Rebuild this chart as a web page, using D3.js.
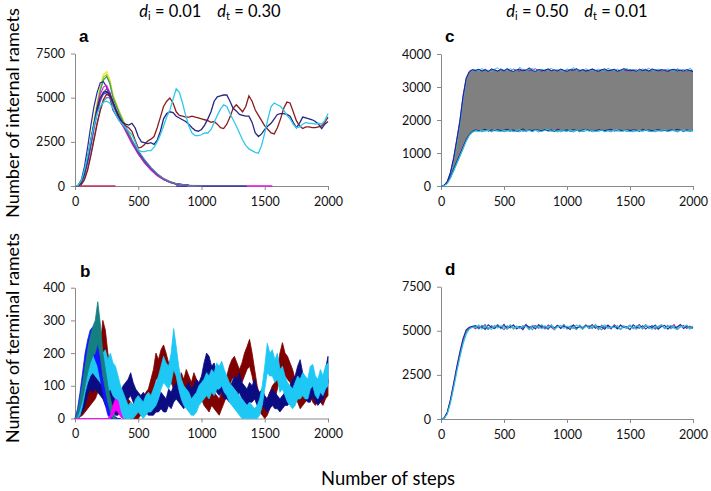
<!DOCTYPE html>
<html><head><meta charset="utf-8">
<script src="https://cdn.jsdelivr.net/npm/d3@7"></script>
<style>body{margin:0;background:#fff}svg{display:block}</style>
</head><body><svg id="chart" width="711" height="491"></svg>
<script>
// ---------------- DATA ----------------
const xTicks = [0, 500, 1000, 1500, 2000];
const yTicksA = [0, 2500, 5000, 7500];
const yTicksB = [0, 100, 200, 300, 400];
const yTicksC = [0, 1000, 2000, 3000, 4000];
const yTicksD = [0, 2500, 5000, 7500];
const panelLetters = ["a", "b", "c", "d"];
const titleLeft = ["0.01", "0.30"];
const titleRight = ["0.50", "0.01"];
const titleSubs = ["i", "t"];
const yLabelTop = "Number of internal ramets";
const yLabelBottom = "Number of terminal ramets";
const xLabel = "Number of steps";

// Panel a: runs that die out
const stepsA = [0,25,50,75,100,125,150,175,200,225,250,275,300,350,400,450,500,550,600,650,700,750,800,900,1000];
const dyingAColors = ["#f2e94e","#9acd32","#3c9a5f","#2a2aa0","#e020e0","#2040d0","#7b3fa0","#5a7ab0"];
const dyingAValues = [
  [0,30,260,820,1620,2650,3680,4700,5600,6300,6450,6000,5150,4200,3400,2600,1900,1400,1000,650,400,230,120,30,0],
  [0,30,250,800,1600,2600,3600,4600,5500,6150,6300,5900,5100,4200,3400,2600,1900,1400,1000,650,400,230,120,30,0],
  [0,20,200,700,1500,2500,3500,4500,5400,6000,6200,5800,5000,4100,3300,2500,1850,1350,950,620,380,220,110,30,0],
  [0,40,350,1100,2200,3400,4500,5300,5850,5900,5600,5000,4300,3700,3200,2500,1900,1400,1000,650,400,230,120,30,0],
  [0,20,200,700,1400,2400,3400,4400,5200,5600,5700,5300,4600,3800,3100,2400,1800,1300,900,580,350,200,100,25,0],
  [0,30,250,800,1600,2600,3500,4300,4900,5200,5300,5200,4700,3900,3200,2500,1900,1400,1000,650,400,230,120,30,0],
  [0,20,150,600,1300,2200,3200,4100,4800,5300,5500,5300,4700,3900,3200,2500,1850,1350,950,620,380,220,110,30,0],
  [0,10,100,450,1000,1800,2700,3600,4300,4800,5000,5000,4600,3900,3300,2600,2000,1500,1050,700,430,250,130,30,0]
];
// zero-valued tails of extinct runs (start step, end step)
const zeroTailStart = [0, 800, 1360];
const zeroTailEnd = [320, 1360, 1560];
const zeroTailColors = ["#c0305a", "#2a2aa0", "#e020e0"];

// Panel a: persistent runs, every 25 steps
const persistAColors = ["#8b1c1c", "#262680", "#2ec8ea"];
const redA = [0,10,80,350,900,1700,2600,3500,4300,4900,
  5200,5100,4700,4200,3800,3500,3400,3300,3100,2600,
  2150,2200,2350,2550,2650,2800,3300,3900,4500,4800,
  4980,4700,4200,4000,3950,3900,3900,3950,3900,3850,
  3800,3750,3700,3600,3650,3500,3300,3250,3500,3900,
  4400,4600,4400,4200,4500,5100,4800,4300,4000,3700,
  3400,3200,3000,2950,3300,3800,4400,4750,4700,4200,
  3700,3400,3250,3350,3350,3300,3300,3350,3400,3600,3900];
const navyA = [0,30,200,700,1500,2500,3500,4400,5000,5300,
  5350,5200,4800,4300,3900,3600,3500,3450,3550,3300,
  2800,2500,2450,2400,2450,2350,2600,3100,3800,4100,
  4200,4150,3950,3850,3750,3650,3500,3300,3150,3100,
  3200,3450,3800,4200,4800,5050,5100,5150,5150,4800,
  4400,4250,4050,4000,3950,3950,3600,3000,2800,2950,
  3200,3400,3550,3800,4050,4100,4100,4050,3950,3600,
  3300,3550,3900,3850,3800,3750,3650,3500,3250,3500,3650];
const cyanA = [0,40,300,900,1700,2600,3400,4100,4500,4750,
  4800,4700,4400,4000,3700,3500,3300,3100,2900,2500,
  2050,1950,1950,2000,2000,2200,2500,2900,3400,3900,
  4300,4900,5500,5300,4700,4000,3400,3000,2850,2850,
  2900,3000,3000,3200,3600,4000,4350,4600,4500,4100,
  3750,3400,3000,2600,2300,2100,2000,1900,1850,2300,
  3000,3800,4500,4700,4600,4500,4300,4000,3800,3500,
  3300,3350,3500,3600,3550,3550,3500,3550,3500,3700,4100];

// Panel b: terminal ramets, band (low/high) every 20 steps
const redBHi = [0,5,20,40,60,80,90,100,110,150, 220,300,270,200,150,120,90,70,60,50,
  50,60,50,40,30,40,50,60,80,90, 120,150,200,180,210,225,200,170,180,150,
  130,110,140,120,150,130,110,140,120,100, 110,90,80,70,90,80,70,60,80,100,
  130,160,180,190,170,150,170,200,220,242, 200,150,100,70,50,40,60,80,100,110,
  150,200,232,200,190,170,150,120,100,80, 90,100,110,120,100,90,110,100,90,110, 120];
const redBLo = [0,0,5,10,20,30,40,50,60,80, 120,150,140,110,80,60,40,20,10,0,
  0,10,0,0,0,0,10,20,30,40, 60,90,120,120,140,150,130,110,110,90,
  80,60,80,70,90,80,60,80,70,50, 60,40,30,20,40,30,20,10,30,50,
  70,100,120,130,110,90,110,130,150,160, 130,90,50,20,10,0,10,30,50,60,
  90,130,150,130,120,110,90,70,50,30, 40,50,60,70,50,40,60,50,40,60, 70];
const navyBHi = [0,10,30,60,100,140,160,150,170,150, 130,120,100,90,110,80,70,60,80,100,
  110,120,140,110,90,80,70,80,70,60, 50,60,70,60,80,70,60,90,80,100,
  110,100,90,80,100,110,90,100,120,110, 130,170,200,190,160,170,140,130,150,120,
  110,100,110,130,120,140,110,100,90,110, 100,120,90,80,90,70,60,80,90,80,
  70,60,70,80,90,100,120,130,160,180, 140,120,100,110,130,100,90,110,120,150, 190];
const navyBLo = [0,0,10,20,40,70,90,80,90,80, 70,60,40,30,40,20,10,10,30,40,
  50,60,70,50,30,20,20,30,20,10, 10,10,20,20,30,20,20,40,30,50,
  60,50,40,30,50,50,40,50,60,60, 70,110,130,120,100,100,80,70,80,60,
  60,50,50,70,60,80,60,50,40,50, 50,60,40,30,40,30,20,30,40,30,
  30,20,30,40,40,50,60,70,90,100, 80,60,50,50,70,50,40,50,60,80, 110];
const cyanBHi = [0,15,50,100,170,220,260,280,250,270, 230,200,210,180,200,170,160,130,100,80,
  60,40,50,40,60,70,60,50,70,80, 70,90,110,130,160,190,170,160,200,275,
  220,160,120,100,90,80,60,70,80,100, 110,120,140,130,150,140,170,160,175,150,
  130,110,100,90,80,70,60,50,40,50, 40,30,40,60,100,160,230,200,210,180,
  200,150,160,130,110,100,90,110,130,120, 140,130,120,160,165,130,120,150,130,160, 170];
const cyanBLo = [0,0,10,40,80,110,130,140,130,120, 110,100,90,80,90,70,60,40,20,0,
  0,0,0,0,10,20,10,0,10,20, 20,30,40,60,90,110,100,90,110,150,
  130,90,60,40,30,20,10,10,20,40, 50,60,70,60,80,70,90,90,100,80,
  70,50,40,30,20,10,0,0,0,0, 0,0,0,10,40,90,140,130,130,110,
  120,80,90,70,50,40,30,40,60,60, 70,60,60,90,100,70,60,80,70,90, 100];
// extinct runs in b (from step 0, every 20 steps)
const tealBHi = [0,20,60,110,160,210,250,280,300,357,290,200,150,100,60,30,0];
const tealBLo = [0,5,30,60,100,140,170,190,200,230,190,130,90,50,20,0,0];
const blueBHi = [0,30,80,140,200,240,270,280,260,240,200,150,100,60,30,10,5,0,0];
const blueBLo = [0,10,40,80,120,160,190,200,180,160,120,80,40,10,0,0,0,0,0];
const magBHi = [0,0,0,0,0,0,0,0,0,0,0,0,0,0,10,40,60,55,20,0];
const magBLo = [0,0,0,0,0,0,0,0,0,0,0,0,0,0,0,10,25,20,5,0];

// Panel c: envelope edges, every 25 steps
const cNavyHi = [0,20,130,400,820,1380,1950,2700,3250,3460,3520,
  3500,3540,3480,3520,3470,3550,3510,3490,3530,3480,
  3560,3500,3470,3520,3540,3490,3510,3580,3500,3470,
  3530,3510,3490,3550,3500,3520,3480,3540,3510,3470,
  3530,3500,3560,3490,3520,3480,3510,3540,3500,3470,
  3520,3550,3490,3510,3530,3480,3500,3560,3520,3490,
  3510,3470,3540,3500,3520,3480,3550,3510,3490,3530,
  3500,3470,3520,3540,3490,3510,3480,3530,3500,3460];
const cCyanHi = [0,15,100,340,760,1300,1880,2620,3200,3440,3500,
  3530,3480,3560,3500,3510,3470,3540,3580,3490,3520,
  3500,3550,3520,3480,3600,3510,3490,3530,3560,3500,
  3480,3540,3500,3510,3570,3490,3530,3500,3480,3550,
  3510,3590,3500,3530,3480,3560,3500,3520,3490,3540,
  3500,3480,3570,3520,3500,3540,3490,3510,3560,3500,
  3530,3500,3480,3550,3510,3570,3490,3500,3540,3520,
  3490,3550,3500,3480,3560,3510,3530,3490,3570,3500];
const cPurpleHi = [0,25,150,420,860,1420,2000,2750,3280,3480,3530,
  3490,3520,3500,3540,3480,3510,3530,3470,3550,3500,
  3520,3490,3540,3500,3480,3530,3510,3490,3520,3550,
  3500,3480,3520,3540,3490,3510,3500,3530,3480,3520,
  3500,3540,3510,3480,3530,3500,3490,3550,3510,3500,
  3530,3490,3510,3500,3540,3480,3520,3510,3490,3530,
  3500,3520,3480,3510,3540,3500,3490,3520,3510,3480,
  3530,3500,3510,3490,3540,3500,3520,3480,3510,3490];
const cCyanLo = [0,10,80,250,470,690,910,1140,1370,1540,1640,
  1680,1650,1700,1660,1690,1640,1710,1670,1650,1690,
  1660,1700,1640,1680,1710,1650,1670,1690,1640,1700,
  1670,1650,1690,1720,1660,1680,1640,1700,1670,1650,
  1690,1660,1700,1640,1680,1710,1660,1690,1650,1670,
  1700,1640,1680,1660,1690,1710,1650,1670,1700,1640,
  1680,1660,1690,1650,1700,1670,1640,1690,1660,1680,
  1710,1650,1670,1690,1640,1680,1700,1660,1690,1670];
const cNavyLo = [0,15,100,290,520,740,960,1190,1410,1570,1660,
  1700,1670,1690,1720,1660,1700,1680,1710,1670,1690,
  1720,1680,1700,1660,1690,1730,1670,1700,1680,1710,
  1690,1670,1710,1680,1700,1660,1720,1690,1680,1700,
  1670,1710,1690,1660,1700,1720,1680,1690,1670,1710,
  1690,1680,1700,1720,1660,1700,1690,1670,1710,1680,
  1700,1690,1660,1720,1680,1700,1670,1690,1710,1680,
  1690,1670,1700,1680,1720,1690,1660,1700,1680,1690];
const cTealLo = [0,8,70,230,450,670,890,1120,1350,1530,1630,
  1660,1690,1640,1680,1700,1650,1680,1660,1700,1640,
  1680,1650,1690,1670,1640,1700,1660,1680,1650,1690,
  1640,1680,1700,1660,1670,1650,1690,1640,1680,1700,
  1660,1640,1680,1690,1650,1670,1700,1640,1680,1660,
  1690,1650,1670,1640,1700,1660,1680,1690,1650,1670,
  1640,1690,1660,1680,1700,1650,1670,1640,1690,1660,
  1680,1650,1700,1670,1640,1690,1660,1680,1650,1670];

// Panel d: four runs, every 25 steps
const dColors = ["#8040a0", "#40a0a0", "#2a2aa8", "#30c0e0"];
const dPurple = [0,50,360,1050,1950,2880,3720,4480,5000,5180,5230,
  5120,5300,5180,5350,5090,5260,5150,5320,5210,5070,
  5280,5160,5340,5110,5250,5190,5360,5080,5230,5300,
  5140,5270,5100,5330,5200,5060,5290,5170,5350,5120,
  5240,5310,5090,5260,5180,5340,5130,5220,5290,5070,
  5310,5160,5250,5100,5340,5200,5080,5270,5190,5320,
  5150,5230,5360,5110,5280,5170,5300,5090,5240,5330,
  5140,5260,5190,5350,5080,5220,5300,5130,5270,5180];
const dTeal = [0,40,330,1000,1850,2780,3620,4380,4900,5150,5220,
  5250,5100,5310,5180,5070,5290,5220,5350,5120,5240,
  5160,5330,5090,5270,5200,5140,5310,5230,5060,5280,
  5190,5340,5150,5220,5300,5100,5260,5180,5330,5110,
  5270,5200,5080,5320,5160,5240,5290,5120,5350,5190,
  5060,5250,5310,5170,5230,5100,5340,5200,5140,5280,
  5220,5090,5300,5180,5350,5130,5260,5210,5070,5290,
  5170,5320,5110,5240,5200,5340,5150,5270,5100,5230];
const dNavy = [0,60,400,1100,2000,2950,3800,4550,5050,5200,5250,
  5300,5150,5230,5080,5340,5200,5120,5290,5170,5360,
  5100,5250,5310,5140,5220,5070,5330,5190,5270,5110,
  5350,5180,5240,5090,5300,5160,5320,5130,5260,5200,
  5080,5340,5170,5230,5110,5300,5190,5360,5140,5250,
  5210,5090,5330,5160,5280,5120,5310,5180,5230,5070,
  5340,5200,5150,5290,5100,5260,5180,5330,5120,5240,
  5310,5090,5270,5160,5220,5350,5130,5250,5200,5140];
const dCyan = [0,30,280,900,1750,2650,3500,4250,4800,5100,5200,
  5180,5330,5100,5260,5200,5070,5310,5150,5280,5230,
  5090,5340,5170,5220,5130,5300,5250,5060,5320,5190,
  5240,5110,5290,5160,5350,5080,5230,5300,5140,5270,
  5190,5120,5330,5210,5090,5280,5150,5240,5310,5100,
  5260,5340,5130,5220,5180,5300,5070,5250,5160,5330,
  5110,5280,5200,5140,5310,5230,5090,5270,5190,5350,
  5120,5240,5300,5160,5070,5260,5210,5330,5140,5280];

// ---------------- DRAWING ----------------
const FONT = 'Lato, "Open Sans", sans-serif';
const svg = d3.select("#chart");
svg.append("rect").attr("width", 711).attr("height", 491).attr("fill", "#fff");

const steps25 = d3.range(0, 2001, 25);
const steps20 = d3.range(0, 2001, 20);
const fmt = d3.format("d");

function panel(xr, yr, yd, yt) {
  const x = d3.scaleLinear().domain([0, 2000]).range(xr);
  const y = d3.scaleLinear().domain(yd).range(yr);
  const g = svg.append("g");
  const ax = g.append("g").attr("transform", `translate(0,${yr[0]})`)
    .call(d3.axisBottom(x).tickValues(xTicks).tickFormat(fmt).tickSizeInner(4).tickSizeOuter(0).tickPadding(7));
  const ay = g.append("g").attr("transform", `translate(${xr[0]},0)`)
    .call(d3.axisLeft(y).tickValues(yt).tickFormat(fmt).tickSizeInner(4).tickSizeOuter(0).tickPadding(6));
  [ax, ay].forEach(a => {
    a.attr("font-family", FONT).attr("font-size", 12.5).attr("color", "#8a8a8a");
    a.selectAll("text").attr("fill", "#111");
  });
  const plot = g.append("g");
  return {x, y, g: plot};
}

const pa = panel([75, 328], [186, 53.5], [0, 7500], yTicksA);
const pb = panel([75, 328], [418.5, 287.7], [0, 400], yTicksB);
const pc = panel([441, 693], [186, 54], [0, 4000], yTicksC);
const pd = panel([441, 693], [419, 286.7], [0, 7500], yTicksD);

function lineOf(p, steps, vals) {
  return d3.line().x((d, i) => p.x(steps[i])).y(d => p.y(d))(vals);
}
function areaOf(p, steps, lo, hi) {
  return d3.area().x((d, i) => p.x(steps[i])).y0((d, i) => p.y(lo[i])).y1(d => p.y(d))(hi);
}

// ---- panel a ----
zeroTailStart.forEach((s, i) => {
  pa.g.append("path").attr("d", lineOf(pa, [s, zeroTailEnd[i]], [0, 0]))
    .attr("fill", "none").attr("stroke", zeroTailColors[i]).attr("stroke-width", 1.6);
});
dyingAValues.forEach((vals, i) => {
  pa.g.append("path").attr("d", lineOf(pa, stepsA, vals))
    .attr("fill", "none").attr("stroke", dyingAColors[i]).attr("stroke-width", i === 0 ? 1.8 : 1.2);
});
[redA, navyA, cyanA].forEach((vals, i) => {
  pa.g.append("path").attr("d", lineOf(pa, steps25, vals))
    .attr("fill", "none").attr("stroke", persistAColors[i]).attr("stroke-width", 1.3);
});

// ---- panel b ----
const bBands = [
  {hi: redBHi, lo: redBLo, c: "#7f0000"},
  {hi: navyBHi, lo: navyBLo, c: "#0c0c82"},
  {hi: cyanBHi, lo: cyanBLo, c: "#1ec8f5"},
  {hi: blueBHi, lo: blueBLo, c: "#1414ff"},
  {hi: tealBHi, lo: tealBLo, c: "#148080"},
  {hi: magBHi, lo: magBLo, c: "#ff00ff"}
];
bBands.forEach(b => {
  pb.g.append("path").attr("d", areaOf(pb, steps20, b.lo, b.hi))
    .attr("fill", b.c).attr("stroke", b.c).attr("stroke-width", 0.8);
});

// ---- panel c ----
pc.g.append("path").attr("d", areaOf(pc, steps25, cCyanLo, cNavyHi)).attr("fill", "#808080");
[[cPurpleHi, "#7030a0"], [cCyanHi, "#22c8e8"], [cNavyHi, "#1a1a9c"],
 [cTealLo, "#2aa198"], [cNavyLo, "#1a1a9c"], [cCyanLo, "#22c8e8"]].forEach(([vals, c]) => {
  pc.g.append("path").attr("d", lineOf(pc, steps25, vals))
    .attr("fill", "none").attr("stroke", c).attr("stroke-width", 1);
});

// ---- panel d ----
[dPurple, dTeal, dNavy, dCyan].forEach((vals, i) => {
  pd.g.append("path").attr("d", lineOf(pd, steps25, vals))
    .attr("fill", "none").attr("stroke", dColors[i]).attr("stroke-width", 1.1);
});

// ---- panel letters ----
const letterPos = [[79, 42], [80, 277], [445, 42], [445, 275]];
panelLetters.forEach((l, i) => {
  svg.append("text").attr("x", letterPos[i][0]).attr("y", letterPos[i][1])
    .attr("font-family", "Liberation Sans, Arial, sans-serif").attr("font-weight", "bold")
    .attr("font-size", 17).attr("fill", "#000").text(l);
});

// ---- titles ----
function title(cx, vals) {
  const t = svg.append("text").attr("x", cx).attr("y", 17).attr("text-anchor", "middle")
    .attr("font-family", FONT).attr("font-size", 16.5).attr("fill", "#000");
  vals.forEach((v, i) => {
    t.append("tspan").attr("font-style", "italic").attr("dx", i ? 16 : 0).text("d");
    t.append("tspan").attr("font-size", 11).attr("dy", 3).text(titleSubs[i]);
    t.append("tspan").attr("dy", -3).text(" = " + v);
  });
  return t;
}
title(210, titleLeft);
title(577, titleRight);

// ---- axis titles ----
function fit(sel, w) {
  const cur = sel.node().getComputedTextLength();
  sel.attr("font-size", +sel.attr("font-size") * w / cur);
}
const yl1 = svg.append("text").attr("transform", "translate(19,113) rotate(-90)")
  .attr("text-anchor", "middle").attr("font-family", FONT).attr("font-size", 16).attr("fill", "#000").text(yLabelTop);
fit(yl1, 210);
const yl2 = svg.append("text").attr("transform", "translate(19,338) rotate(-90)")
  .attr("text-anchor", "middle").attr("font-family", FONT).attr("font-size", 16).attr("fill", "#000").text(yLabelBottom);
fit(yl2, 210);
const xl = svg.append("text").attr("x", 388).attr("y", 485).attr("text-anchor", "middle")
  .attr("font-family", FONT).attr("font-size", 16).attr("fill", "#000").text(xLabel);
fit(xl, 134);
</script></body></html>
